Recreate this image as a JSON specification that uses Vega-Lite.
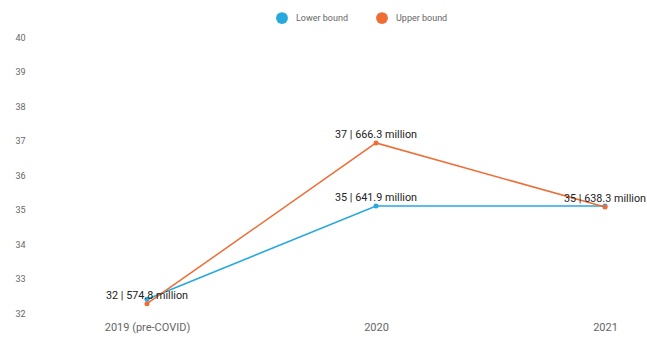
{
  "$schema": "https://vega.github.io/schema/vega-lite/v6.json",
  "autosize": {"type": "none"},
  "width": 607,
  "height": 276,
  "padding": {"left": 40, "top": 37, "right": 0, "bottom": 26},
  "background": "white",
  "config": {"view": {"stroke": null}, "font": "Roboto"},
  "data": {"values": [
    {"year": "2019 (pre-COVID)", "series": "Lower bound", "value": 32.4, "label": ""},
    {"year": "2020", "series": "Lower bound", "value": 35.1, "label": "35 | 641.9 million"},
    {"year": "2021", "series": "Lower bound", "value": 35.1, "label": ""},
    {"year": "2019 (pre-COVID)", "series": "Upper bound", "value": 32.27, "label": "32 | 574.8 million"},
    {"year": "2020", "series": "Upper bound", "value": 36.93, "label": "37 | 666.3 million"},
    {"year": "2021", "series": "Upper bound", "value": 35.07, "label": "35 | 638.3 million"}
  ]},
  "encoding": {
    "x": {"field": "year", "type": "ordinal", "sort": null,
      "scale": {"type": "point", "range": [107, 565], "padding": 0},
      "axis": {"title": null, "labelAngle": 0, "domain": false, "ticks": false, "labelColor": "#666", "labelFontSize": 11, "labelPadding": 8}},
    "y": {"field": "value", "type": "quantitative",
      "scale": {"domain": [32, 40], "nice": false, "zero": false},
      "axis": {"title": null, "values": [32,33,34,35,36,37,38,39,40], "domain": false, "ticks": false, "grid": false, "labelColor": "#666", "labelFontSize": 9, "labelPadding": 2, "offset": 13}},
    "color": {"field": "series", "type": "nominal",
      "scale": {"domain": ["Lower bound", "Upper bound"], "range": ["#27a9dd", "#ef6c35"]},
      "legend": {"title": null, "orient": "none", "direction": "horizontal", "legendX": 236, "legendY": -25, "symbolType": "circle", "symbolSize": 140, "labelFontSize": 9, "labelColor": "#666", "labelOffset": 8, "columnPadding": 28, "symbolStrokeWidth": 0}}
  },
  "layer": [
    {"mark": {"type": "line", "strokeWidth": 1.5}},
    {"mark": {"type": "point", "filled": true, "size": 25, "opacity": 1}},
    {"mark": {"type": "text", "dy": -8, "fontSize": 10.8, "color": "#222"},
     "encoding": {"text": {"field": "label"}, "color": {"value": "#222"}}}
  ]
}
